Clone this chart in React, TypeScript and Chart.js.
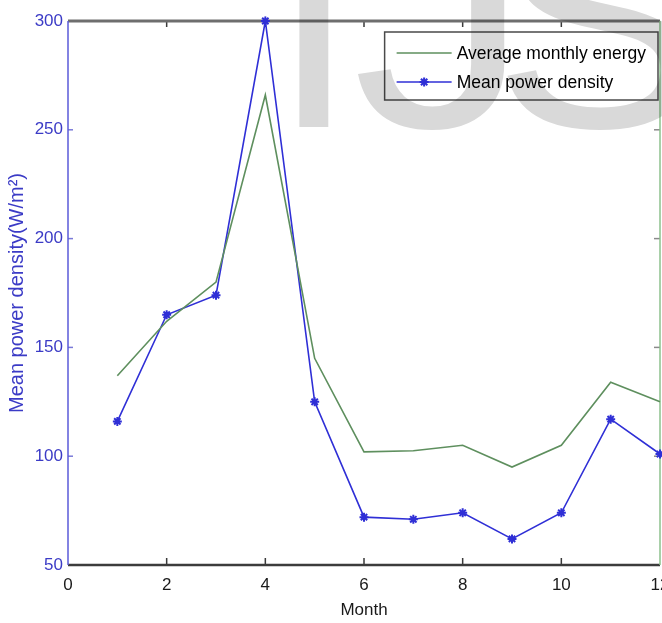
import { useEffect, useRef } from "react";
import { Chart, registerables } from "chart.js";

Chart.register(...registerables);

// Monthly values
const months = [1, 2, 3, 4, 5, 6, 7, 8, 9, 10, 11, 12];
const averageMonthlyEnergy = [137, 162, 180, 266, 145, 102, 102.5, 105, 95, 105, 134, 125];
const meanPowerDensity = [116, 165, 174, 300, 125, 72, 71, 74, 62, 74, 117, 101];

// Axis ticks and text
const xTicks = [0, 2, 4, 6, 8, 10, 12];
const yTicks = [50, 100, 150, 200, 250, 300];
const seriesNames = ["Average monthly energy", "Mean power density"];
const xTitle = "Month";
const yTitle = "Mean power density(W/m²)";
const watermarkText = "IJS";

const FONT = '"Liberation Sans", Arial, Helvetica, sans-serif';
const BLUE_TEXT = "#3b3bc6";
const BLUE_LINE = "#2f2fd6";
const GREEN_LINE = "#5e8f5e";

function drawStar(ctx: CanvasRenderingContext2D, cx: number, cy: number, r: number) {
  ctx.beginPath();
  for (let k = 0; k < 4; k++) {
    const a = (k * Math.PI) / 4;
    const dx = Math.cos(a) * r;
    const dy = Math.sin(a) * r;
    ctx.moveTo(cx - dx, cy - dy);
    ctx.lineTo(cx + dx, cy + dy);
  }
  ctx.stroke();
}

// Box frame with inward ticks, drawn under the data
const framePlugin = {
  id: "boxFrame",
  beforeDatasetsDraw(chart: any) {
    const { ctx, chartArea, scales } = chart;
    const { left, right, top, bottom } = chartArea;
    const xs = scales.x;
    const ys = scales.y;
    ctx.save();
    ctx.lineCap = "butt";

    // x ticks (bottom pointing up, top pointing down)
    ctx.strokeStyle = "#3a3a3a";
    ctx.lineWidth = 1.5;
    xs.ticks.forEach((t: any) => {
      const px = xs.getPixelForValue(t.value);
      if (px <= left + 1 || px >= right - 1) return;
      ctx.beginPath();
      ctx.moveTo(px, bottom);
      ctx.lineTo(px, bottom - 7);
      ctx.moveTo(px, top);
      ctx.lineTo(px, top + 6);
      ctx.stroke();
    });

    // y ticks
    ys.ticks.forEach((t: any) => {
      const py = ys.getPixelForValue(t.value);
      if (py <= top + 1 || py >= bottom - 1) return;
      ctx.strokeStyle = "#7a7ad8";
      ctx.beginPath();
      ctx.moveTo(left, py);
      ctx.lineTo(left + 5, py);
      ctx.stroke();
      ctx.strokeStyle = "#8a8a8a";
      ctx.beginPath();
      ctx.moveTo(right, py);
      ctx.lineTo(right - 6, py);
      ctx.stroke();
    });

    // top border
    ctx.strokeStyle = "#6e6e6e";
    ctx.lineWidth = 3;
    ctx.beginPath();
    ctx.moveTo(left, top);
    ctx.lineTo(right, top);
    ctx.stroke();

    // bottom axis
    ctx.strokeStyle = "#3c3c3c";
    ctx.lineWidth = 2.5;
    ctx.beginPath();
    ctx.moveTo(left, bottom);
    ctx.lineTo(right, bottom);
    ctx.stroke();

    // left axis (blue)
    ctx.strokeStyle = "#5a5ad8";
    ctx.lineWidth = 1.5;
    ctx.beginPath();
    ctx.moveTo(left, top);
    ctx.lineTo(left, bottom);
    ctx.stroke();

    // right axis (green)
    ctx.strokeStyle = "#8cc08c";
    ctx.beginPath();
    ctx.moveTo(right, top);
    ctx.lineTo(right, bottom);
    ctx.stroke();

    ctx.restore();
  },
};

// Boxed legend in the upper right of the plot area
const legendPlugin = {
  id: "boxLegend",
  afterDatasetsDraw(chart: any) {
    const { ctx, chartArea } = chart;
    const ds = chart.data.datasets;
    ctx.save();
    ctx.font = `17.5px ${FONT}`;
    const textW = Math.max(...ds.map((d: any) => ctx.measureText(d.label).width));
    const padL = 12, sample = 55, gap = 5, padR = 12, rowH = 29, padTop = 21, h = 68;
    const w = padL + sample + gap + textW + padR;
    const right = chartArea.right - 2;
    const left = right - w;
    const top = chartArea.top + 11;
    ctx.fillStyle = "#ffffff";
    ctx.fillRect(left, top, w, h);
    ctx.strokeStyle = "#4a4a4a";
    ctx.lineWidth = 1.5;
    ctx.strokeRect(left, top, w, h);
    ds.forEach((d: any, i: number) => {
      const cy = top + padTop + i * rowH;
      ctx.strokeStyle = d.borderColor;
      ctx.lineWidth = d.borderWidth;
      ctx.beginPath();
      ctx.moveTo(left + padL, cy);
      ctx.lineTo(left + padL + sample, cy);
      ctx.stroke();
      if (d.pointRadius > 0) {
        ctx.lineWidth = d.pointBorderWidth;
        ctx.strokeStyle = d.pointBorderColor;
        drawStar(ctx, left + padL + sample / 2, cy, d.pointRadius);
      }
      ctx.fillStyle = "#000000";
      ctx.textAlign = "left";
      ctx.textBaseline = "middle";
      ctx.fillText(d.label, left + padL + sample + gap, cy + 1);
    });
    ctx.restore();
  },
};

// Large light-grey lettering laid over the figure
const watermarkPlugin = {
  id: "watermark",
  afterDraw(chart: any) {
    const { ctx } = chart;
    const glyphLefts = [295, 358, 503];
    const stretch = [1, 1.15, 1.02];
    ctx.save();
    ctx.globalCompositeOperation = "multiply";
    ctx.fillStyle = "#d9d9d9";
    ctx.font = `310px ${FONT}`;
    ctx.textAlign = "left";
    ctx.textBaseline = "alphabetic";
    watermarkText.split("").forEach((ch, i) => {
      const m = ctx.measureText(ch);
      const sx = stretch[i] ?? 1;
      ctx.save();
      ctx.translate(glyphLefts[i], 127);
      ctx.scale(sx, 1);
      ctx.fillText(ch, m.actualBoundingBoxLeft, 0);
      ctx.restore();
    });
    ctx.restore();
  },
};

export default function App() {
  const canvasRef = useRef<HTMLCanvasElement | null>(null);

  useEffect(() => {
    const canvas = canvasRef.current;
    if (!canvas) return;

    const chart = new Chart(canvas, {
      type: "line",
      data: {
        datasets: [
          {
            label: seriesNames[0],
            data: months.map((m, i) => ({ x: m, y: averageMonthlyEnergy[i] })),
            borderColor: GREEN_LINE,
            backgroundColor: GREEN_LINE,
            borderWidth: 1.6,
            pointRadius: 0,
            pointBorderWidth: 0,
            pointBorderColor: GREEN_LINE,
            tension: 0,
            clip: false as any,
          },
          {
            label: seriesNames[1],
            data: months.map((m, i) => ({ x: m, y: meanPowerDensity[i] })),
            borderColor: BLUE_LINE,
            backgroundColor: BLUE_LINE,
            borderWidth: 1.6,
            pointStyle: "star",
            pointRadius: 4.5,
            pointBorderWidth: 2,
            pointBorderColor: BLUE_LINE,
            pointBackgroundColor: BLUE_LINE,
            tension: 0,
            clip: false as any,
          },
        ],
      },
      options: {
        responsive: false,
        animation: false,
        events: [],
        layout: { padding: { top: 21, right: 60, left: 0, bottom: 0 } },
        plugins: {
          legend: { display: false },
          tooltip: { enabled: false },
        },
        scales: {
          x: {
            type: "linear",
            position: "bottom",
            min: 0,
            max: 12,
            afterBuildTicks: (s: any) => {
              s.ticks = xTicks.map((v) => ({ value: v }));
            },
            afterFit: (s: any) => {
              s.height = 58;
              s.paddingLeft = 0;
              s.paddingRight = 0;
            },
            grid: { display: false, drawTicks: false },
            border: { display: false },
            ticks: {
              autoSkip: false,
              maxRotation: 0,
              padding: 10,
              color: "#1a1a1a",
              font: { family: FONT, size: 17 },
            },
            title: {
              display: true,
              text: xTitle,
              color: "#1a1a1a",
              font: { family: FONT, size: 17 },
              padding: { top: 0, bottom: 2 },
            },
          },
          y: {
            type: "linear",
            position: "left",
            min: 50,
            max: 300,
            afterBuildTicks: (s: any) => {
              s.ticks = yTicks.map((v) => ({ value: v }));
            },
            afterFit: (s: any) => {
              s.width = 68;
              s.paddingTop = 0;
              s.paddingBottom = 0;
            },
            grid: { display: false, drawTicks: false },
            border: { display: false },
            ticks: {
              padding: 5,
              color: BLUE_TEXT,
              font: { family: FONT, size: 17 },
            },
            title: {
              display: true,
              text: yTitle,
              color: BLUE_TEXT,
              font: { family: FONT, size: 20 },
              padding: { top: 5, bottom: 0 },
            },
          },
        },
      },
      plugins: [framePlugin, legendPlugin, watermarkPlugin],
    });

    return () => chart.destroy();
  }, []);

  return (
    <div
      style={{
        position: "fixed",
        left: 0,
        top: 0,
        width: 662,
        height: 623,
        overflow: "hidden",
        background: "#ffffff",
      }}
    >
      <canvas ref={canvasRef} width={720} height={623} style={{ display: "block" }} />
    </div>
  );
}
